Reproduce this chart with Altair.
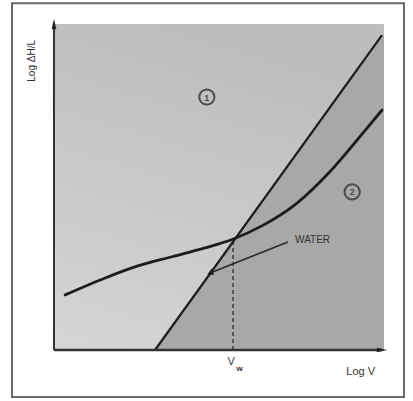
import altair as alt
import pandas as pd

# Logical coordinates: Log V (x) and Log dH/L (y), plot box 0..10 on both
curve_x = [0.34, 1.56, 2.56, 3.60, 4.60, 5.43, 6.38, 7.40, 8.41, 9.43, 10.0]
curve_y = [1.69, 2.21, 2.58, 2.86, 3.13, 3.39, 3.83, 4.50, 5.47, 6.67, 7.36]
diag_x = [3.08, 10.0]
diag_y = [0.0, 9.66]
vw_x = 5.46
vw_y = 3.37
arrow_x = [7.13, 4.76]
arrow_y = [3.31, 2.36]
region_labels = ["1", "2"]
region_lx = [4.66, 9.09]
region_ly = [7.76, 4.85]

XD = [-1.646, 10.945]
YD = [-1.564, 10.736]

def X(f="x"):
    return alt.X(f"{f}:Q", scale=alt.Scale(domain=XD, nice=False, zero=False), axis=None)

def Y(f="y"):
    return alt.Y(f"{f}:Q", scale=alt.Scale(domain=YD, nice=False, zero=False), axis=None)

ink = "#1c1c1c"

frame = alt.Chart(pd.DataFrame({"x": [-1.28], "x2": [10.67], "y": [-1.44], "y2": [10.64]})).mark_rect(
    fill="white", stroke="#6a6a6a", strokeWidth=2
).encode(x=X(), x2="x2:Q", y=Y(), y2="y2:Q")

box = alt.Chart(pd.DataFrame({"x": [0.0], "x2": [10.06], "y": [0.0], "y2": [10.0]})).mark_rect(
    fill=alt.Gradient(gradient="linear",
                      stops=[alt.GradientStop(color="#bdbdbd", offset=0),
                             alt.GradientStop(color="#d5d5d5", offset=1)],
                      x1=0.3, x2=0, y1=0, y2=1)
).encode(x=X(), x2="x2:Q", y=Y(), y2="y2:Q")

reg2_df = pd.DataFrame({"x": diag_x + [10.06], "y": diag_y + [9.66]})
reg2 = alt.Chart(reg2_df).mark_area(color="#a8a8a8", opacity=1).encode(
    x=X(), y=Y(), y2=alt.datum(0)
)

diag = alt.Chart(pd.DataFrame({"x": diag_x, "y": diag_y})).mark_line(
    color=ink, strokeWidth=2.2
).encode(x=X(), y=Y())

curve = alt.Chart(pd.DataFrame({"x": curve_x, "y": curve_y})).mark_line(
    color=ink, strokeWidth=2.8, interpolate="monotone", strokeCap="round"
).encode(x=X(), y=Y())

dash = alt.Chart(pd.DataFrame({"x": [vw_x], "y": [0.0], "y2": [vw_y]})).mark_rule(
    color="#333", strokeWidth=1.4, strokeDash=[4, 3]
).encode(x=X(), y=Y(), y2="y2:Q")

arrow_line = alt.Chart(pd.DataFrame({"x": arrow_x, "y": arrow_y})).mark_line(
    color="#2a2a2a", strokeWidth=1.6
).encode(x=X(), y=Y())

arrow_head = alt.Chart(pd.DataFrame({"x": [arrow_x[1]], "y": [arrow_y[1]]})).mark_point(
    shape="triangle-up", filled=True, color="#1a1a1a", size=45, opacity=1, angle=248
).encode(x=X(), y=Y())

# axes
yaxis = alt.Chart(pd.DataFrame({"x": [0.0], "y": [0.0], "y2": [10.0]})).mark_rule(
    color="#333", strokeWidth=2
).encode(x=X(), y=Y(), y2="y2:Q")
xaxis = alt.Chart(pd.DataFrame({"x": [0.0], "x2": [10.0], "y": [0.0]})).mark_rule(
    color="#333", strokeWidth=2.4
).encode(x=X(), x2="x2:Q", y=Y())
ytip = alt.Chart(pd.DataFrame({"x": [0.0], "y": [10.0]})).mark_point(
    shape="M0,-1L0.45,1L-0.45,1Z", filled=True, color="#222", size=110, opacity=1
).encode(x=X(), y=Y())
xtip = alt.Chart(pd.DataFrame({"x": [10.0], "y": [0.0]})).mark_point(
    shape="M0,-1L0.45,1L-0.45,1Z", filled=True, color="#222", size=110, opacity=1, angle=90
).encode(x=X(), y=Y())

# region labels (circled numbers)
rl_df = pd.DataFrame({"t": region_labels, "x": region_lx, "y": region_ly})
rcirc = alt.Chart(rl_df).mark_point(
    shape="circle", size=230, color="#4a4a4a", strokeWidth=2, filled=False, opacity=1
).encode(x=X(), y=Y())
rtext = alt.Chart(rl_df).mark_text(
    fontSize=9, font="Liberation Sans", fontWeight="bold", color="#4a4a4a", baseline="middle", align="center", dy=0.5
).encode(x=X(), y=Y(), text="t:N")

water = alt.Chart(pd.DataFrame({"x": [7.35], "y": [3.37], "t": ["WATER"]})).mark_text(
    fontSize=10, font="Liberation Sans", color="#333", align="left", baseline="middle"
).encode(x=X(), y=Y(), text="t:N")

vlab = alt.Chart(pd.DataFrame({"x": [5.4], "y": [-0.38], "t": ["V"]})).mark_text(
    fontSize=11, font="Liberation Sans", color="#333", align="center", baseline="middle"
).encode(x=X(), y=Y(), text="t:N")
wlab = alt.Chart(pd.DataFrame({"x": [5.66], "y": [-0.58], "t": ["w"]})).mark_text(
    fontSize=8, font="Liberation Sans", fontWeight="bold", color="#333", align="center", baseline="middle"
).encode(x=X(), y=Y(), text="t:N")

xlab = alt.Chart(pd.DataFrame({"x": [9.35], "y": [-0.68], "t": ["Log V"]})).mark_text(
    fontSize=11, font="Liberation Sans", color="#333", align="center", baseline="middle"
).encode(x=X(), y=Y(), text="t:N")

ylab = alt.Chart(pd.DataFrame({"x": [-0.67], "y": [8.87], "t": ["Log ΔH/L"]})).mark_text(
    fontSize=10, font="Liberation Sans", color="#333", align="center", baseline="middle", angle=270
).encode(x=X(), y=Y(), text="t:N")

chart = alt.layer(
    frame, box, reg2, dash, diag, curve, arrow_line, arrow_head,
    yaxis, xaxis, ytip, xtip, rcirc, rtext, water, vlab, wlab, xlab, ylab
).properties(
    width=413, height=401, padding=0, autosize=alt.AutoSizeParams(type="none"),
    background="white"
).configure_view(stroke=None)

chart.save("out.html", embed_options={"renderer": "svg", "actions": False})
